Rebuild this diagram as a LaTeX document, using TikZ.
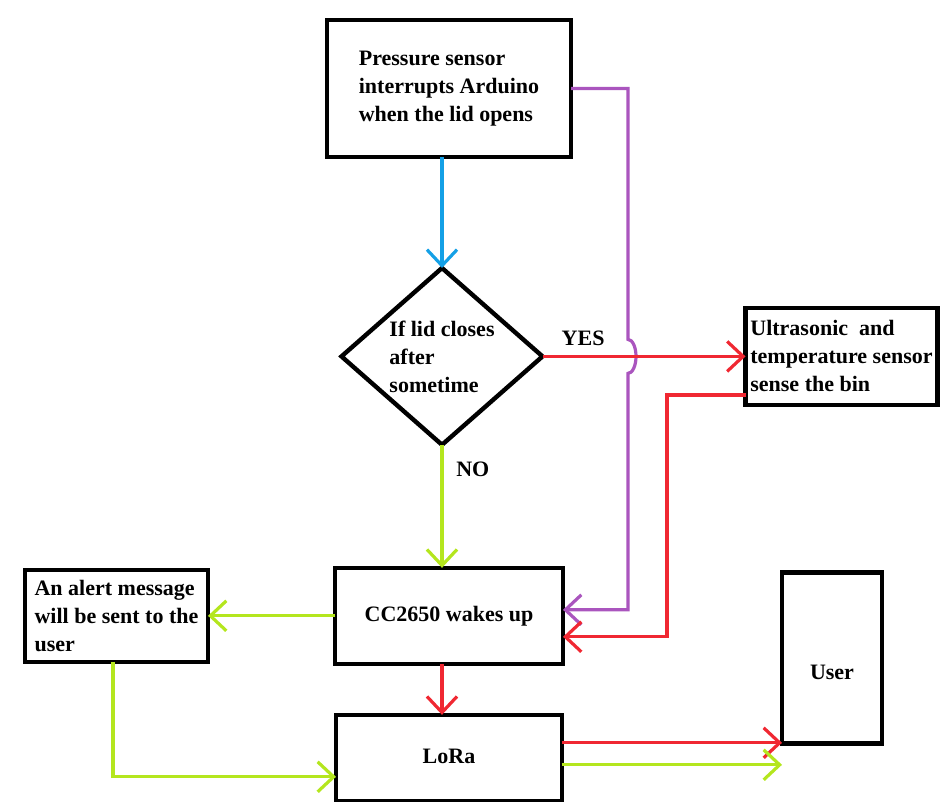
\documentclass[tikz,border=0pt]{standalone}
\usepackage{fontspec}
\setmainfont{Liberation Serif}
\usetikzlibrary{shapes.geometric, arrows.meta, positioning, calc}

\definecolor{lineBlue}{RGB}{20,160,230}
\definecolor{linePurple}{RGB}{170,85,190}
\definecolor{lineRed}{RGB}{240,40,50}
\definecolor{lineGreen}{RGB}{180,230,30}

\begin{document}
\begin{tikzpicture}[
  font=\bfseries\fontsize{11}{14}\selectfont,
  box/.style={rectangle, draw, line width=2.2pt, outer sep=0pt, inner sep=2pt, align=left},
  decision/.style={diamond, draw, line width=2.2pt, outer sep=0pt, inner sep=0pt, minimum width=100.5pt, minimum height=86pt, align=left},
  arrow/.style={-{Straight Barb[length=8pt, width=15pt]}, line width=1.6pt}
]

\useasboundingbox (-224.5pt,44.25pt) rectangle (246.5pt,-356.75pt);

% NODES
\node[box, minimum width=122pt, minimum height=68.5pt] (sensor) {Pressure sensor\\interrupts Arduino\\when the lid opens};
\node[decision, below=55.5pt of sensor, xshift=-3.5pt] (decide) {If lid closes\\after\\sometime};
\node[box, right=101.5pt of decide, minimum width=96pt, minimum height=48.5pt] (ultra) {Ultrasonic\ \ and\\temperature sensor\\sense the bin};
\node[box, below=61.5pt of decide, xshift=3.5pt, minimum width=114pt, minimum height=48pt, align=center] (wake) {CC2650 wakes up};
\node[box, left=63.5pt of wake, minimum width=91.5pt, minimum height=46pt] (alert) {An alert message\\will be sent to the\\user};
\node[box, below=25.5pt of wake, minimum width=113pt, minimum height=43pt, text depth=2pt, align=center] (lora) {LoRa};
\node[box, right=110pt of lora, yshift=50pt, minimum width=50pt, minimum height=85.5pt, text height=22pt, align=center] (user) {User};

\coordinate (purpleV) at ($(wake.east)+(32.5pt,0)$);
\coordinate (redV) at ($(wake.east)+(52pt,0)$);

% FLOW
\draw[arrow, lineBlue] (decide.north |- sensor.south) -- (decide.north);
\draw[arrow, linePurple] (sensor.east) -| ($(decide.east -| purpleV)+(0,8.5pt)$)
  arc[start angle=90, end angle=-90, x radius=4pt, y radius=8.5pt] |- ($(wake.east)+(0,3pt)$);
\draw[arrow, lineRed] (decide.east) -- node[above, pos=0.2, yshift=1pt, text=black]{YES} (decide.east -| ultra.west);
\draw[arrow, lineRed] ($(ultra.west)+(0,-19.25pt)$) -| ($(redV)+(0,-10.5pt)$) -- ($(wake.east)+(0,-10.5pt)$);
\draw[arrow, lineGreen] (decide.south) -- node[right, pos=0.2, xshift=3pt, text=black]{NO} (decide.south |- wake.north);
\draw[arrow, lineGreen] (wake.west) -- (wake.west -| alert.east);
\draw[arrow, lineGreen] ($(alert.south)+(-1.75pt,0)$) |- ($(lora.west)+(0,-9.5pt)$);
\draw[arrow, lineRed] (wake.south -| decide.south) -- (lora.north -| decide.south);
\draw[arrow, lineRed] ($(lora.east)+(0,7.5pt)$) -- ($(lora.east -| user.west)+(0,7.5pt)$);
\draw[arrow, lineGreen] ($(lora.east)+(0,-3.5pt)$) -- ($(lora.east -| user.west)+(0,-3.5pt)$);

\end{tikzpicture}
\end{document}
